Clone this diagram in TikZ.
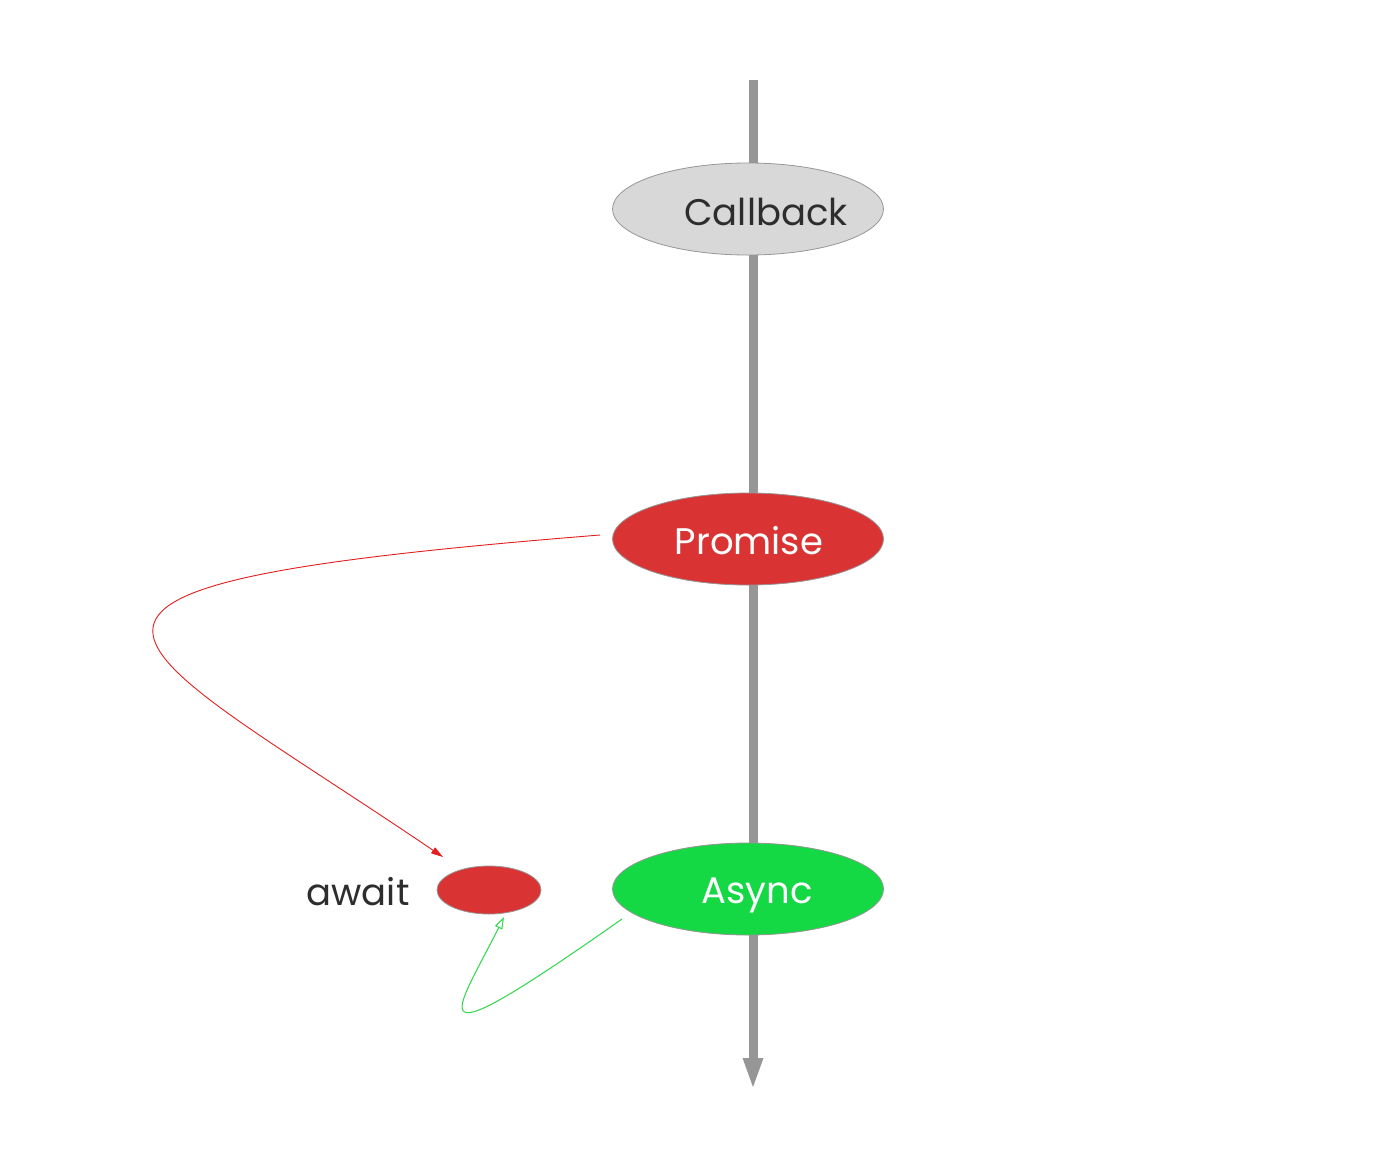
\documentclass[tikz,border=0pt]{standalone}
\usepackage{fontspec}
\setmainfont{Poppins}
\usetikzlibrary{shapes.geometric,arrows.meta,calc}
\definecolor{axisgray}{RGB}{150,150,150}
\definecolor{cbfill}{RGB}{216,216,216}
\definecolor{redfill}{RGB}{218,51,51}
\definecolor{greenfill}{RGB}{20,217,68}
\definecolor{redline}{RGB}{226,30,30}
\definecolor{greenline}{RGB}{45,215,75}
\definecolor{darktext}{RGB}{45,45,45}
\tikzset{
  bigell/.style={ellipse, draw=axisgray, line width=0.8pt, minimum width=271pt, minimum height=92pt, inner sep=0pt},
  lbl/.style={font=\fontsize{37}{40}\selectfont, anchor=base, inner sep=0pt},
}
\begin{document}
\begin{tikzpicture}[x=1pt,y=-1pt]
\useasboundingbox (0,0) rectangle (1375,1152);
\fill[white] (0,0) rectangle (1375,1152);
\coordinate (top) at (753,80);
\coordinate (bot) at (753,1090);
\draw[axisgray, line width=9pt, -{Triangle[length=32pt,width=18pt]}] (top) -- (bot);
\node[bigell, fill=cbfill] (cb) at (748,209) {};
\node[bigell, fill=redfill] (pr) at (748,539) {};
\node[bigell, fill=greenfill] (as) at (748,889) {};
\node[lbl, text=darktext] (cbt) at ($(cb)+(18,16)$) {Callback};
\node[lbl, text=white] (prt) at ($(pr)+(1,15)$) {Promise};
\node[lbl, text=white] (ast) at ($(as)+(9,14)$) {Async};
\node[ellipse, draw=axisgray, line width=0.8pt, fill=redfill, minimum width=104pt, minimum height=48pt, inner sep=0pt] (aw) at (489,890) {};
\node[lbl, text=darktext] (awt) at ($(aw)+(-131,15)$) {await};
\coordinate (rs) at ($(pr)+(-148,-4)$);
\coordinate (re) at ($(aw)+(-46,-33)$);
\draw[redline, line width=0.9pt, -{Triangle[length=12pt,width=7pt]}] (rs) .. controls (-50,587) and (113,633) .. (re);
\coordinate (gs) at ($(as)+(-126,30)$);
\coordinate (ge) at ($(aw)+(15,27)$);
\draw[greenline, line width=1pt, -{Triangle[open,length=12pt,width=8pt]}] (gs) .. controls (410,1068) and (455,1015) .. (ge);
\end{tikzpicture}
\end{document}
